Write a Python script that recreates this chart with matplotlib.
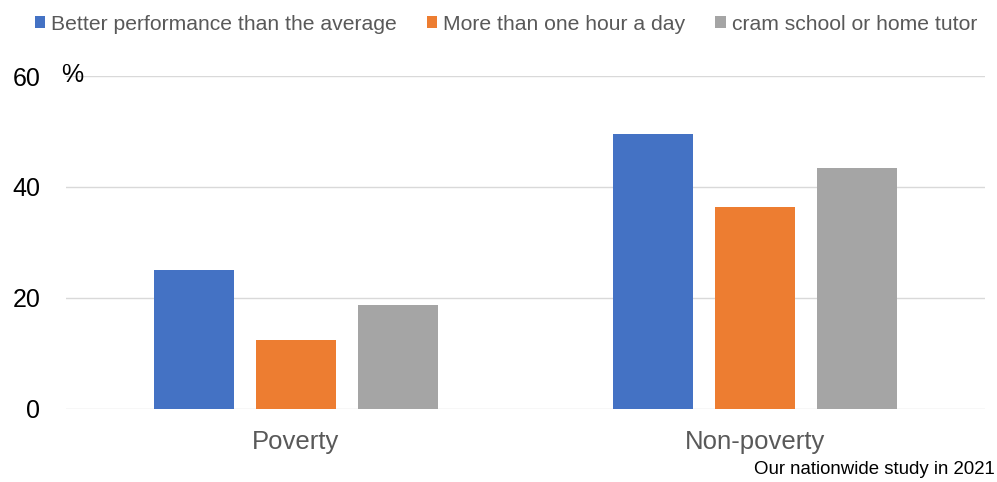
import matplotlib.pyplot as plt
import numpy as np

plt.rcParams['font.family'] = ['Liberation Sans', 'DejaVu Sans']

categories = ['Poverty', 'Non-poverty']
series_names = ['Better performance than the average',
                'More than one hour a day',
                'cram school or home tutor']
better_perf = [25.0, 49.5]
over_hour = [12.5, 36.4]
cram_school = [18.8, 43.5]
colors = ['#4472c4', '#ed7d31', '#a5a5a5']

fig = plt.figure(figsize=(9.97, 4.82), dpi=100)
ax = fig.add_axes([0.0662, 0.1515, 0.9218, 0.6908])

x = np.arange(len(categories))
width = 0.174
pitch = 0.222
for i, (vals, name) in enumerate(zip([better_perf, over_hour, cram_school], series_names)):
    ax.bar(x + (i - 1) * pitch, vals, width, color=colors[i], label=name, zorder=3)

ax.set_xlim(-0.5, 1.5)
ax.set_ylim(0, 60)
ax.set_yticks([0, 20, 40, 60])
ax.set_xticks(x)
ax.set_xticklabels(categories, fontsize=18.5, color='#595959')
ax.tick_params(axis='y', labelsize=18, length=0, pad=18.5, labelcolor='black')
ax.tick_params(axis='x', length=0, pad=15)
ax.grid(axis='y', color='#d9d9d9', linewidth=1, zorder=0)
for s in ax.spines.values():
    s.set_visible(False)

fig.text(61 / 997, 1 - 75 / 482, '%', fontsize=18, va='center', ha='left')
fig.text(0.998, 1 - 470 / 482, 'Our nationwide study in 2021', fontsize=13.4,
         ha='right', va='center')

ax.legend(loc='center', bbox_to_anchor=((506 - 66) / 919, (409 - 24) / 333),
          bbox_transform=ax.transAxes, ncol=3, frameon=False, fontsize=15.2,
          labelcolor='#595959', handlelength=0.48, handleheight=0.48,
          handletextpad=0.28, columnspacing=1.43, borderaxespad=0)

fig.savefig('out.png', dpi=100)
